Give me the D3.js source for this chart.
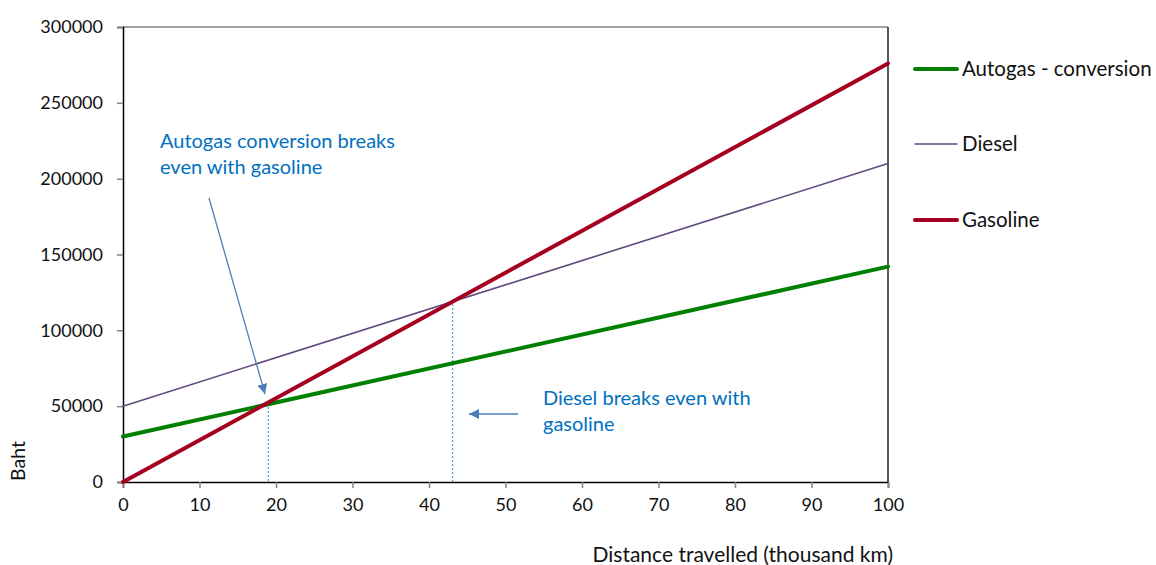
<!DOCTYPE html>
<html><head><meta charset="utf-8">
<script src="https://cdn.jsdelivr.net/npm/d3@7"></script>
<style>
body{margin:0;background:#fff;}
text{font-family:Lato,"Open Sans",sans-serif;}
</style></head>
<body><svg id="c" width="1156" height="565"></svg>
<script>
const seriesNames = ["Autogas - conversion", "Diesel", "Gasoline"];
const distance = [0, 100];
const autogas = [30000, 142000];
const diesel = [50000, 210000];
const gasoline = [0, 276000];
const xTicks = [0,10,20,30,40,50,60,70,80,90,100];
const yTicks = [0,50000,100000,150000,200000,250000,300000];
const breakEvenX = [19, 43.1];
const breakEvenY = [52000, 120000];
const annoText1 = ["Autogas conversion breaks", "even with gasoline"];
const annoText2 = ["Diesel breaks even with", "gasoline"];

const colors = ["#008000", "#604a7b", "#a50021"];
const widths = [4, 1.6, 4];
const allSeries = [autogas, diesel, gasoline];

const svg = d3.select("#c");
const x = d3.scaleLinear().domain([0,100]).range([123,888]);
const y = d3.scaleLinear().domain([0,300000]).range([482,27]);

// top border
svg.append("line").attr("x1",123).attr("x2",888).attr("y1",27).attr("y2",27)
  .attr("stroke","#868686").attr("stroke-width",1.5);
// right border
svg.append("line").attr("x1",888).attr("x2",888).attr("y1",27).attr("y2",482)
  .attr("stroke","#222").attr("stroke-width",1.5);

// y axis
const ya = svg.append("g").attr("transform","translate(123,0)")
  .call(d3.axisLeft(y).tickValues(yTicks).tickFormat(d3.format("d")).tickSize(6).tickPadding(14));
ya.select(".domain").attr("stroke","#000").attr("stroke-width",1.5);
ya.selectAll(".tick line").attr("stroke","#868686").attr("stroke-width",1.5);
ya.selectAll("text").attr("font-size",18).attr("fill","#111").style("font-family","Lato");

// x axis
const xa = svg.append("g").attr("transform","translate(0,482)")
  .call(d3.axisBottom(x).tickValues(xTicks).tickFormat(d3.format("d")).tickSize(6).tickPadding(10));
xa.select(".domain").attr("stroke","#000").attr("stroke-width",1.5);
xa.selectAll(".tick line").attr("stroke","#868686").attr("stroke-width",1.5);
xa.selectAll("text").attr("font-size",18).attr("fill","#111").style("font-family","Lato");

// break-even dashed lines
breakEvenX.forEach((bx,i)=>{
  svg.append("line").attr("x1",x(bx)).attr("x2",x(bx)).attr("y1",y(breakEvenY[i])).attr("y2",y(0))
    .attr("stroke","#3a7fd5").attr("stroke-width",1).attr("stroke-dasharray","2,2");
});

// series lines
const line = d3.line().x((d,i)=>x(distance[i])).y(d=>y(d));
allSeries.forEach((s,i)=>{
  svg.append("path").datum(s).attr("d",line).attr("fill","none")
    .attr("stroke",colors[i]).attr("stroke-width",widths[i]).attr("stroke-linecap","round");
});

// arrows
const defs = svg.append("defs");
defs.append("marker").attr("id","ah").attr("viewBox","0 0 10 10").attr("refX",10).attr("refY",5)
  .attr("markerWidth",10).attr("markerHeight",10).attr("markerUnits","userSpaceOnUse").attr("orient","auto")
  .append("path").attr("d","M0,0 L10,5 L0,10 z").attr("fill","#4a7ebb");
svg.append("line").attr("x1",209).attr("y1",198).attr("x2",265).attr("y2",394)
  .attr("stroke","#4a7ebb").attr("stroke-width",1.3).attr("marker-end","url(#ah)");
svg.append("line").attr("x1",518).attr("y1",414).attr("x2",469).attr("y2",414)
  .attr("stroke","#4a7ebb").attr("stroke-width",1.3).attr("marker-end","url(#ah)");

// annotation texts
const t1 = svg.append("text").attr("x",160).attr("y",148).attr("font-size",20).attr("fill","#0070c0");
annoText1.forEach((t,i)=>t1.append("tspan").attr("x",160).attr("dy",i?26:0).text(t));
const t2 = svg.append("text").attr("x",543).attr("y",405).attr("font-size",20).attr("fill","#0070c0");
annoText2.forEach((t,i)=>t2.append("tspan").attr("x",543).attr("dy",i?26:0).text(t));

// legend
const legY = [69,144,220];
seriesNames.forEach((n,i)=>{
  svg.append("line").attr("x1",915).attr("x2",957).attr("y1",legY[i]).attr("y2",legY[i])
    .attr("stroke",colors[i]).attr("stroke-width",widths[i]).attr("stroke-linecap","round");
  svg.append("text").attr("x",962).attr("y",legY[i]+7).attr("font-size",20.5).attr("fill","#111").text(n);
});

// axis titles
svg.append("text").attr("transform","translate(25,461) rotate(-90)").attr("text-anchor","middle")
  .attr("font-size",19.5).attr("fill","#111").text("Baht");
svg.append("text").attr("x",893).attr("y",562).attr("text-anchor","end")
  .attr("font-size",21).attr("fill","#111").text("Distance travelled (thousand km)");
</script></body></html>
